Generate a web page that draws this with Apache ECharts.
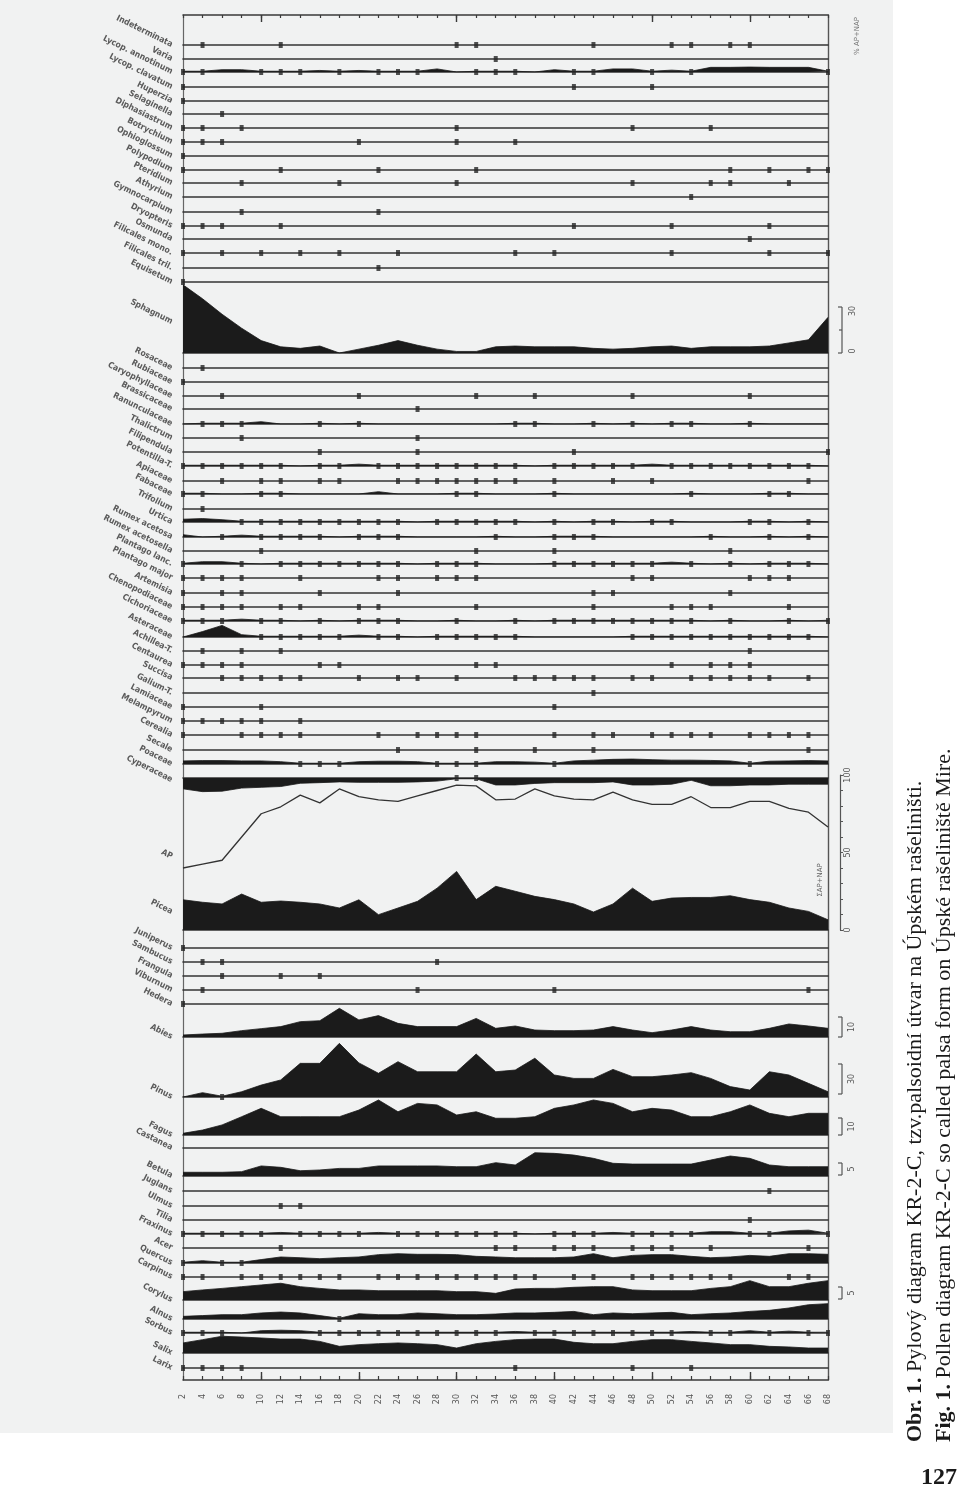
<!DOCTYPE html>
<html><head><meta charset="utf-8">
<script src="https://cdn.jsdelivr.net/npm/echarts@6/dist/echarts.min.js"></script>
<style>html,body{margin:0;padding:0;background:#fff}#c{width:960px;height:1494px}</style>
</head><body><div id="c"></div>
<script>
// depth labels (cm)
const depths = [2,4,6,8,10,12,14,16,18,20,22,24,26,28,30,32,34,36,38,40,42,44,46,48,50,52,54,56,58,60,62,64,66,68];

// ---- top block: presence (depths where found) or % values
const indeterminata = [4,12,30,32,44,52,54,58,60];
const varia = [34];
const lycopodiumAnnotinum = [0.5,0.5,1.5,1.5,0.5,0.5,0.5,1,0.5,1,0.5,0.5,0.5,2,0,0.5,0.5,0.5,0,1.5,0.5,0.5,2,2,0.5,1.2,0.5,3,3,3.2,3,3,3,0.5];
const lycopodiumClavatum = [2,42,50];
const huperzia = [2];
const selaginella = [6];
const diphasiastrum = [2,4,8,30,48,56];
const botrychium = [2,4,6,20,30,36];
const ophioglossum = [2];
const polypodium = [2,12,22,32,58,62,66,68];
const pteridium = [8,18,30,48,56,58,64];
const athyrium = [54];
const gymnocarpium = [8,22];
const dryopteris = [2,4,6,12,42,52,62];
const osmunda = [60];
const filicalesMono = [2,6,10,14,18,24,36,40,52,62,68];
const filicalesTri = [22];
const equisetum = [2];
const sphagnum = [44,35,25,16,8,4,3,4.5,0,2.5,5,8,5,2.5,1,1,4,4.5,4,4,4,3,2.5,3,4,4.5,3,4,4,4,4.5,6.5,8.5,23];

// ---- herbs
const rosaceae = [4];
const rubiaceae = [2];
const caryophyllaceae = [6,20,32,38,48,60];
const brassicaceae = [26];
const ranunculaceae = [0,0.5,0.5,0.5,1.5,0,0,0.5,0,0.5,0,0,0,0,0,0,0,0.5,0.5,0,0,0.5,0,0.5,0,0.5,0.5,0,0,0.5,0,0,0,0];
const thalictrum = [8,26];
const filipendula = [16,26,42,68];
const potentilla = [0.5,0.5,0.5,0.5,0.5,0.5,0,0.5,0.5,1.2,0.5,0.5,0.5,0.5,0.5,0.5,0.5,0.5,0,0.5,0.5,0.5,0.5,0.5,1.2,0.5,0.5,0.5,0.5,0.5,0.5,0.5,0.5,0];
const apiaceae = [6,10,12,16,18,24,26,28,30,32,34,36,40,46,50,66];
const fabaceae = [0.5,0.5,0,0,0.5,0.5,0,0,0,0,1.5,0,0,0,0.5,0.5,0,0,0,0.5,0,0,0,0,0,0,0.5,0,0,0,0.5,0.5,0,0];
const trifolium = [4];
const urtica = [1.8,2.2,1.5,0.5,0.5,0.5,0.5,0.5,0.5,0.5,0.5,0.5,0,0.5,0.5,0.5,0.5,0.5,0,0.5,0,0.5,0.5,0,0.5,0.5,0,0,0,0.5,0.5,0,0.5,0];
const rumexAcetosa = [1.5,0,0.5,1.2,0.5,0.5,0.5,0.5,0,0.5,0.5,0.5,0,0,0,0,0.5,0,0,0.5,0.5,0.5,0,0,0,0,0,0.5,0,0,0.5,0,0.5,0];
const rumexAcetosella = [10,32,40,58];
const plantagoLanceolata = [0.5,1.5,1.5,0.5,0,0.5,0.5,0.5,0.5,0.5,0.5,0.5,0,0.5,0.5,0.5,0,0,0,0.5,0.5,0.5,0.5,0.5,0.5,1.2,0.5,0,0.5,0,0.5,0.5,0.5,0];
const plantagoMajor = [2,4,6,8,14,22,24,28,30,32,48,50,60,62,64];
const artemisia = [2,6,8,16,24,44,46,58];
const chenopodiaceae = [2,4,6,8,12,14,20,22,32,44,52,54,56,64];
const cichoriaceae = [0.5,0.5,0.5,1.2,0.5,0.5,0,0.5,0,0.5,0.5,0.5,0,0,0.5,0,0,0.5,0,0.5,0.5,0.5,0.5,0.5,0.5,0.5,0.5,0,0.5,0,0,0.5,0,0.5];
const asteraceae = [0,3.5,7.5,1.5,0.5,0.5,0.5,0.5,0.5,1.2,0.5,0.5,0,0.5,0.5,0.5,0.5,0.5,0,0,0,0,0,0.5,0.5,0.5,0.5,0.5,0.5,0.5,0.5,0.5,0.5,0];
const achillea = [4,8,12,60];
const centaurea = [2,4,6,8,16,18,32,34,52,56,58,60];
const succisa = [6,8,10,12,14,20,24,26,30,36,38,40,42,44,48,50,54,56,58,60,62,66];
const galium = [44];
const lamiaceae = [2,10,40];
const melampyrum = [2,4,6,8,10,14];
const cerealia = [2,8,10,12,14,22,26,28,30,32,40,44,46,50,52,54,56,60,62,64,66];
const secale = [24,32,38,44,66];
const poaceae = [2,2.2,2.2,2,2,1.5,0.5,0.5,0.5,1.5,1.8,1.8,1.5,0.5,0.5,0.5,1.5,1.5,1.2,0.5,2,2.5,3,3.2,2.8,2.5,2.5,2.3,2,0.5,1.8,2,2.2,2];
const cyperaceae = [7,8.8,8.5,6.5,6,5.5,3.4,3,2.5,2.8,2.8,2.8,2.5,2,0.5,0.5,4.5,4.5,3.5,3,3,3,2.5,4.5,4.5,4,1.5,5,5,4.5,4.5,4,4,4];

// ---- sum diagram (0-100 %)
const apSum = [40,42.5,45,60,75,79.5,87,82,91,86,84,83,86.5,90,93.5,93,84,84.5,91,86.5,84.5,84,89,84,81,81,86,79,79,83,83,78.5,76,66.5];
const picea = [19.5,17.9,16.8,23.2,17.9,18.7,17.9,16.8,14.2,19.5,9.9,14.2,18.5,27,37.8,19.6,28.2,25,21.7,19.6,16.8,11.6,16.8,27,18.5,20.6,21,21,22.1,19.6,17.9,14.2,12,6.6];

// ---- shrubs & trees
const juniperus = [2];
const sambucus = [4,6,28];
const frangula = [6,12,16];
const viburnum = [4,26,40,66];
const hedera = [2];
const abies = [1.3,1.9,2.4,4.1,5.4,6.7,9.9,10.5,18.5,11,13.8,8.8,6.7,6.7,6.7,12,5.6,7.1,4.5,4.1,4.1,4.5,6.7,4.5,2.8,4.5,6.7,4.5,3.4,3.4,5.6,8.4,7.1,5.6];
const pinus = [0,2.8,0.5,3.4,7.7,11,21.7,21.7,34.6,22,15.3,22.8,16.3,16.3,16.3,27.7,16.3,17.4,25,14.2,12,12,17.8,13.1,13.1,14.2,15.7,12,6.7,4.5,16.3,14.2,8.8,3.4];
const fagus = [1.1,3.2,6.5,11.8,17.2,11.8,11.8,11.8,11.8,16.1,22.6,15,20.4,19.4,12.9,15,10.8,10.8,11.8,17.2,19.4,22.6,20.4,15,17.2,16.1,11.8,11.8,15,19.4,14,11.8,14,14];
const castanea = [];
const betula = [2.4,2.4,2.4,2.8,6.5,5.6,3.4,3.9,4.9,4.9,6.5,6.5,6.5,6.5,6,6,8.6,7.1,15,14.6,13.5,11.4,8.2,7.7,7.7,7.7,7.7,10.3,12.9,11.4,7.1,6,6,6];
const juglans = [62];
const ulmus = [12,14];
const tilia = [60];
const fraxinus = [0.5,0.5,0.5,0.5,0.5,1,0.5,0.5,0.5,0.5,1,0.5,0.5,0.5,0.5,0.5,0.5,0.5,0,0.5,0.5,0.5,1,0.5,0.5,0.5,0.5,1.5,1.5,0.5,0.5,2,2.5,0.5];
const acer = [12,34,36,40,42,44,48,50,52,56,66];
const quercus = [0.5,1.5,0.5,0.5,2.2,3.9,3.4,2.8,3.4,3.9,5.4,6,5.6,5.6,5.4,4.3,3.9,3.4,3.4,3.4,3.9,6,3.4,4.9,5.4,5.4,4.3,3.4,3.9,4.9,4.3,6,6,5.6];
const carpinus = [2,4,8,10,12,14,16,18,22,24,26,28,30,32,34,36,38,42,44,48,50,52,54,56,58,64,66];
const corylus = [5.4,6.5,7.5,8.6,9.7,10.8,8.6,7.5,6.5,6.5,6,6,6,6,5.4,5.4,4.3,7.1,7.5,7.5,8.2,8.6,8.6,6.5,6,6,6,7.5,8.6,12.5,8.6,8.6,10.8,12.5];
const alnus = [1.7,2.2,2.8,2.8,3.9,4.5,3.9,2.2,0.5,3.4,2.8,2.8,3.9,3.4,2.8,2.8,3.2,3.9,3.9,4.3,4.9,2.8,3.9,3.4,3.9,4.3,2.8,3.4,3.9,4.9,5.6,7.1,9.2,9.9];
const sorbus = [0.5,0.5,0.5,0,1.5,1.8,1.5,0.5,0.5,0.5,0.5,0.5,0.5,0.5,0.5,0.5,0.5,1,0.5,0.5,0.5,0.5,0.5,0.5,0.5,0.5,1,0.5,0.5,1.5,0.5,1.2,0.5,0.5];
const salix = [6.5,8.6,10.8,10.3,9.7,9,9,7.5,4.3,5.4,6,6.5,6,5.4,3.2,6,7.5,8.6,9,9,6.9,6,6,7.5,8.6,8.6,7.5,6.5,5.4,5.4,4.3,3.9,3.2,3.2];
const larix = [2,4,6,8,36,48,54];

// ---- layout of the rows (baseline in px)
const rows = [
  {name:'Indeterminata', y:45, dots:indeterminata},
  {name:'Varia', y:59, dots:varia},
  {name:'Lycop. annotinum', y:72, vals:lycopodiumAnnotinum},
  {name:'Lycop. clavatum', y:87, dots:lycopodiumClavatum},
  {name:'Huperzia', y:101, dots:huperzia},
  {name:'Selaginella', y:114, dots:selaginella},
  {name:'Diphasiastrum', y:128, dots:diphasiastrum},
  {name:'Botrychium', y:142, dots:botrychium},
  {name:'Ophioglossum', y:156, dots:ophioglossum},
  {name:'Polypodium', y:170, dots:polypodium},
  {name:'Pteridium', y:183, dots:pteridium},
  {name:'Athyrium', y:197, dots:athyrium},
  {name:'Gymnocarpium', y:212, dots:gymnocarpium},
  {name:'Dryopteris', y:226, dots:dryopteris},
  {name:'Osmunda', y:239, dots:osmunda},
  {name:'Filicales mono.', y:253, dots:filicalesMono},
  {name:'Filicales tril.', y:268, dots:filicalesTri},
  {name:'Equisetum', y:282, dots:equisetum},
  {name:'Sphagnum', y:353, vals:sphagnum, labelY:322, scale:{h:46, top:'30', bottom:'0'}},
  {name:'Rosaceae', y:368, dots:rosaceae},
  {name:'Rubiaceae', y:382, dots:rubiaceae},
  {name:'Caryophyllaceae', y:396, dots:caryophyllaceae},
  {name:'Brassicaceae', y:409, dots:brassicaceae},
  {name:'Ranunculaceae', y:424, vals:ranunculaceae},
  {name:'Thalictrum', y:438, dots:thalictrum},
  {name:'Filipendula', y:452, dots:filipendula},
  {name:'Potentilla-T.', y:466, vals:potentilla},
  {name:'Apiaceae', y:481, dots:apiaceae},
  {name:'Fabaceae', y:494, vals:fabaceae},
  {name:'Trifolium', y:509, dots:trifolium},
  {name:'Urtica', y:522, vals:urtica},
  {name:'Rumex acetosa', y:537, vals:rumexAcetosa},
  {name:'Rumex acetosella', y:551, dots:rumexAcetosella},
  {name:'Plantago lanc.', y:564, vals:plantagoLanceolata},
  {name:'Plantago major', y:578, dots:plantagoMajor},
  {name:'Artemisia', y:593, dots:artemisia},
  {name:'Chenopodiaceae', y:607, dots:chenopodiaceae},
  {name:'Cichoriaceae', y:621, vals:cichoriaceae},
  {name:'Asteraceae', y:637, vals:asteraceae},
  {name:'Achillea-T.', y:651, dots:achillea},
  {name:'Centaurea', y:665, dots:centaurea},
  {name:'Succisa', y:678, dots:succisa},
  {name:'Galium-T.', y:693, dots:galium},
  {name:'Lamiaceae', y:707, dots:lamiaceae},
  {name:'Melampyrum', y:721, dots:melampyrum},
  {name:'Cerealia', y:735, dots:cerealia},
  {name:'Secale', y:750, dots:secale},
  {name:'Poaceae', y:764, vals:poaceae},
  {name:'Cyperaceae', y:778, vals:cyperaceae, down:true, labelY:780},
  {sum:true},
  {name:'Juniperus', y:948, dots:juniperus},
  {name:'Sambucus', y:962, dots:sambucus},
  {name:'Frangula', y:976, dots:frangula},
  {name:'Viburnum', y:990, dots:viburnum},
  {name:'Hedera', y:1004, dots:hedera},
  {name:'Abies', y:1037, vals:abies, scale:{h:20, mid:'10'}},
  {name:'Pinus', y:1097, vals:pinus, scale:{h:30, mid:'30', off:3}},
  {name:'Fagus', y:1135, vals:fagus, scale:{h:17, mid:'10'}},
  {name:'Castanea', y:1148, dots:castanea},
  {name:'Betula', y:1176, vals:betula, scale:{h:12, mid:'5', off:1}},
  {name:'Juglans', y:1191, dots:juglans},
  {name:'Ulmus', y:1206, dots:ulmus},
  {name:'Tilia', y:1220, dots:tilia},
  {name:'Fraxinus', y:1234, vals:fraxinus},
  {name:'Acer', y:1248, dots:acer},
  {name:'Quercus', y:1263, vals:quercus},
  {name:'Carpinus', y:1277, dots:carpinus},
  {name:'Corylus', y:1300, vals:corylus, scale:{h:12, mid:'5', off:1}},
  {name:'Alnus', y:1319, vals:alnus},
  {name:'Sorbus', y:1333, vals:sorbus},
  {name:'Salix', y:1353, vals:salix},
  {name:'Larix', y:1368, dots:larix}
];

const PX = 1.55;           // px per percent
const GL = 183, GR = 132;  // depth axis spans x 183..828
const INK = '#1b1b1b';
const grid = [], xAxis = [], yAxis = [], series = [], graphic = [];

graphic.push({type:'rect', shape:{x:0,y:0,width:893,height:1433}, style:{fill:'#f1f2f2'}, z:-100, silent:true});

function catAxis(gi, pos, extra) {
  return Object.assign({gridIndex:gi, type:'category', data:depths, boundaryGap:false, position:pos,
    axisLine:{show:false, onZero:false}, axisTick:{show:false}, axisLabel:{show:false}, splitLine:{show:false}}, extra||{});
}
function hiddenY(gi, extra) {
  return Object.assign({gridIndex:gi, type:'value', min:0, max:1, axisLine:{show:false,onZero:false}, axisTick:{show:false},
    axisLabel:{show:false}, splitLine:{show:false}}, extra||{});
}

// frame grid: depth axis (bottom), top line, side lines
grid.push({left:GL, right:GR, top:15, height:1365});
xAxis.push(catAxis(0,'bottom',{
  axisLine:{show:true,onZero:false,lineStyle:{color:'#3a3a3a',width:1.5}},
  axisTick:{show:true,inside:true,length:4,interval:0,lineStyle:{color:'#3a3a3a',width:1.2}},
  axisLabel:{show:true,interval:0,rotate:90,fontSize:8,color:'#555',margin:14,fontFamily:'DejaVu Sans'}}));
xAxis.push(catAxis(0,'top',{
  axisLine:{show:true,onZero:false,lineStyle:{color:'#3a3a3a',width:1.5}},
  axisTick:{show:true,inside:true,length:3,interval:0,lineStyle:{color:'#3a3a3a',width:1.2}}}));
yAxis.push(hiddenY(0,{position:'left', axisLine:{show:true,onZero:false,lineStyle:{color:'#666',width:1.2}}}));
yAxis.push(hiddenY(0,{position:'right', axisLine:{show:true,onZero:false,lineStyle:{color:'#555',width:1.4}}}));
// major ticks
grid.push({left:GL, right:GR, top:15, height:1365});
xAxis.push(catAxis(1,'bottom',{axisTick:{show:true,inside:true,length:8,interval:(i)=>i%5===4,lineStyle:{color:'#3a3a3a',width:1.4}}}));
xAxis.push(catAxis(1,'top',{axisTick:{show:true,inside:true,length:7,interval:(i)=>[4,14,24,29].indexOf(i)>=0,lineStyle:{color:'#3a3a3a',width:1.4}}}));
yAxis.push(hiddenY(1));

function label(text, y) {
  graphic.push({type:'text', x:172, y:y, rotation:-0.46, silent:true, z:10,
    style:{text:text, align:'right', verticalAlign:'middle', fontSize:8.5, fontWeight:'bold',
      fill:'#5a5a5a', fontFamily:'DejaVu Sans Condensed, DejaVu Sans'}});
}
function vtext(text, x, y, size, color, align) {
  graphic.push({type:'text', x:x, y:y, rotation:Math.PI/2, silent:true, z:10,
    style:{text:text, align:align||'center', verticalAlign:'middle', fontSize:size, fill:color, fontFamily:'DejaVu Sans'}});
}
function seg(x1,y1,x2,y2,w) {
  graphic.push({type:'line', silent:true, z:10, shape:{x1:x1,y1:y1,x2:x2,y2:y2}, style:{stroke:'#555',lineWidth:w||1.2}});
}

rows.forEach(r => {
  if (r.sum) {
    const gi = grid.length, xi = xAxis.length, yi = yAxis.length;
    grid.push({left:GL, right:GR, top:775, height:155});
    xAxis.push(catAxis(gi,'bottom',{axisLine:{show:true,onZero:false,lineStyle:{color:'#333',width:1.6}}}));
    yAxis.push({gridIndex:gi, type:'value', min:0, max:100, interval:10, position:'right', offset:12,
      axisLine:{show:true,onZero:false,lineStyle:{color:'#555',width:1.2}},
      axisTick:{show:true,length:3,lineStyle:{color:'#555'}},
      axisLabel:{show:true,rotate:90,fontSize:8,color:'#555',margin:4,fontFamily:'DejaVu Sans',
        formatter:(v)=> v%50===0 ? String(v) : ''},
      splitLine:{show:false}});
    series.push({type:'line', xAxisIndex:xi, yAxisIndex:yi, data:picea, symbol:'none', silent:true, z:3,
      lineStyle:{width:0.8,color:INK}, areaStyle:{color:INK,opacity:1}});
    series.push({type:'line', xAxisIndex:xi, yAxisIndex:yi, data:apSum, symbol:'none', silent:true, z:3,
      lineStyle:{width:1.3,color:'#333'}});
    label('AP', 857);
    label('Picea', 912);
    vtext('ΣAP+NAP', 820, 880, 7, '#666');
    return;
  }
  const gi = grid.length, xi = xAxis.length, yi = yAxis.length;
  const maxV = r.vals ? Math.max.apply(null, r.vals) : 0;
  const h = Math.max(6, Math.ceil(maxV*PX)+3);
  const top = r.down ? r.y : r.y - h;
  grid.push({left:GL, right:GR, top:top, height:h});
  xAxis.push(catAxis(gi, r.down?'top':'bottom', {axisLine:{show:true,onZero:false,lineStyle:{color:'#353535',width:1.6}}}));
  yAxis.push(hiddenY(gi, {max:h/PX, inverse:!!r.down}));
  if (r.vals) {
    series.push({type:'line', xAxisIndex:xi, yAxisIndex:yi, data:r.vals, symbol:'none', silent:true, z:3,
      lineStyle:{width:0.8,color:INK}, areaStyle:{color:INK,opacity:1}});
  }
  const pts = [];
  (r.dots||[]).forEach(d => pts.push([depths.indexOf(d), 0]));
  (r.vals||[]).forEach((v,i) => { if (v>0 && v<1) pts.push([i, 0]); });
  if (pts.length) {
    series.push({type:'scatter', xAxisIndex:xi, yAxisIndex:yi, data:pts, symbol:'rect', symbolSize:[4,6],
      itemStyle:{color:'#262626'}, clip:false, silent:true, z:4});
  }
  label(r.name, r.labelY || r.y);
  if (r.scale) {
    const s = r.scale, off = s.off||0;
    const y1 = r.y - off, y0 = y1 - s.h;
    seg(842, y0, 842, y1);
    seg(838, y0, 842, y0); seg(838, y1, 842, y1);
    if (s.top) {
      seg(839, (y0+y1)/2, 842, (y0+y1)/2);
      vtext(s.top, 853, y0+4, 8, '#555');
      vtext(s.bottom, 853, y1-2, 8, '#555');
    } else {
      vtext(s.mid, 852, (y0+y1)/2, 8, '#555');
    }
  }
});

// right-top note
vtext('% AP+NAP', 857, 36, 7, '#777');

// caption
graphic.push({type:'text', x:915, y:1442, rotation:Math.PI/2, silent:true, z:10,
  style:{text:'{b|Obr. 1.} Pylový diagram KR-2-C, tzv.palsoidní útvar na Úpském rašeliništi.',
    rich:{b:{fontWeight:'bold', fontSize:22, fontFamily:'Liberation Serif', fill:'#1a1a1a'}},
    align:'left', verticalAlign:'middle', fontSize:22, fontFamily:'Liberation Serif', fill:'#1a1a1a'}});
graphic.push({type:'text', x:944, y:1442, rotation:Math.PI/2, silent:true, z:10,
  style:{text:'{b|Fig. 1.} Pollen diagram KR-2-C so called palsa form on Úpské rašeliniště Mire.',
    rich:{b:{fontWeight:'bold', fontSize:22, fontFamily:'Liberation Serif', fill:'#1a1a1a'}},
    align:'left', verticalAlign:'middle', fontSize:22, fontFamily:'Liberation Serif', fill:'#1a1a1a'}});
graphic.push({type:'text', x:939, y:1478, silent:true, z:10,
  style:{text:'127', align:'center', verticalAlign:'middle', fontSize:24, fontWeight:'bold', fontFamily:'Liberation Serif', fill:'#1a1a1a'}});

const chart = echarts.init(document.getElementById('c'), null, {renderer:'canvas'});
chart.setOption({animation:false, backgroundColor:'#ffffff', grid:grid, xAxis:xAxis, yAxis:yAxis, series:series, graphic:graphic});
</script></body></html>
